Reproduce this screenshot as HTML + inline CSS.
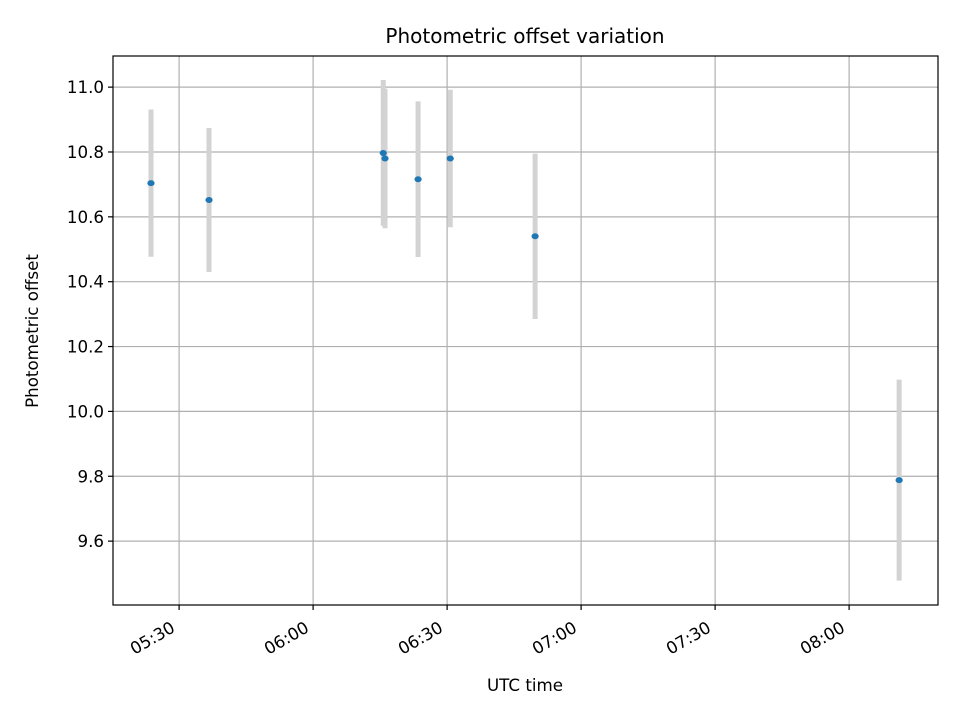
<!DOCTYPE html>
<html><head><meta charset="utf-8"><style>
body{margin:0;background:#fff;}
svg{font-family:"DejaVu Sans","Liberation Sans",sans-serif;}
</style></head><body>
<svg id="chart" width="960" height="720" viewBox="0 0 960 720">
<rect width="960" height="720" fill="#fff"/>
<g id="grid"></g>
<g id="errs"></g>
<g id="pts"></g>
<rect x="113" y="56" width="825" height="549" fill="none" stroke="#000" stroke-width="1.2"/>
<g id="yt"></g>
<g id="xt"></g>
<text x="525" y="43" text-anchor="middle" font-size="20">Photometric offset variation</text>
<text x="525" y="691" text-anchor="middle" font-size="16.7">UTC time</text>
<text transform="translate(38,331) rotate(-90)" text-anchor="middle" font-size="16.7">Photometric offset</text>
</svg>
<script>
// minutes since midnight UTC
const times=[323.7,336.7,375.7,376.1,383.5,390.7,409.7,491.2];
const offsets=[10.704,10.652,10.797,10.780,10.716,10.780,10.540,9.788];
const errors=[0.227,0.222,0.225,0.215,0.24,0.212,0.255,0.31];
const yTicks=[9.6,9.8,10.0,10.2,10.4,10.6,10.8,11.0];
const xTickMinutes=[330,360,390,420,450,480];
const xTickLabels=["05:30","06:00","06:30","07:00","07:30","08:00"];

const NS="http://www.w3.org/2000/svg";
const L=113,R=938,T=56,B=605;
const xMin=315.2,xMax=499.9,yMin=9.403,yMax=11.096;
const xs=m=>L+(m-xMin)/(xMax-xMin)*(R-L);
const ys=v=>B-(v-yMin)/(yMax-yMin)*(B-T);
function mk(tag,attrs,parent){const e=document.createElementNS(NS,tag);for(const k in attrs)e.setAttribute(k,attrs[k]);document.getElementById(parent).appendChild(e);return e;}

yTicks.forEach(v=>{
  const y=ys(v);
  const g=mk('line',{x1:L,x2:R,y1:y,y2:y,stroke:'#b0b0b0','stroke-width':1.2},'grid');
  
  
  mk('line',{x1:L-5,x2:L,y1:y,y2:y,stroke:'#000','stroke-width':1.2},'yt');
  const t=mk('text',{x:L-9,y:y+6,'text-anchor':'end','font-size':16.7},'yt');
  t.textContent=v.toFixed(1);
  
  
});
xTickMinutes.forEach((m,i)=>{
  const x=xs(m);
  const g=mk('line',{x1:x,x2:x,y1:T,y2:B,stroke:'#b0b0b0','stroke-width':1.2},'grid');
  
  
  mk('line',{x1:x,x2:x,y1:B,y2:B+5,stroke:'#000','stroke-width':1.2},'xt');
  const t=mk('text',{transform:`translate(${x-3},${B+26}) rotate(-30)`,'text-anchor':'end','font-size':16.7},'xt');
  t.textContent=xTickLabels[i];
  
  
});
times.forEach((m,i)=>{
  const x=xs(m);
  const e=mk('line',{x1:x,x2:x,y1:ys(offsets[i]+errors[i]),y2:ys(offsets[i]-errors[i]),stroke:'#d3d3d3','stroke-width':5},'errs');
  
  
  const p=mk('ellipse',{cx:x,cy:ys(offsets[i]),rx:3.6,ry:3,fill:'#1f77b4'},'pts');
  
  
});
</script>
</body></html>
